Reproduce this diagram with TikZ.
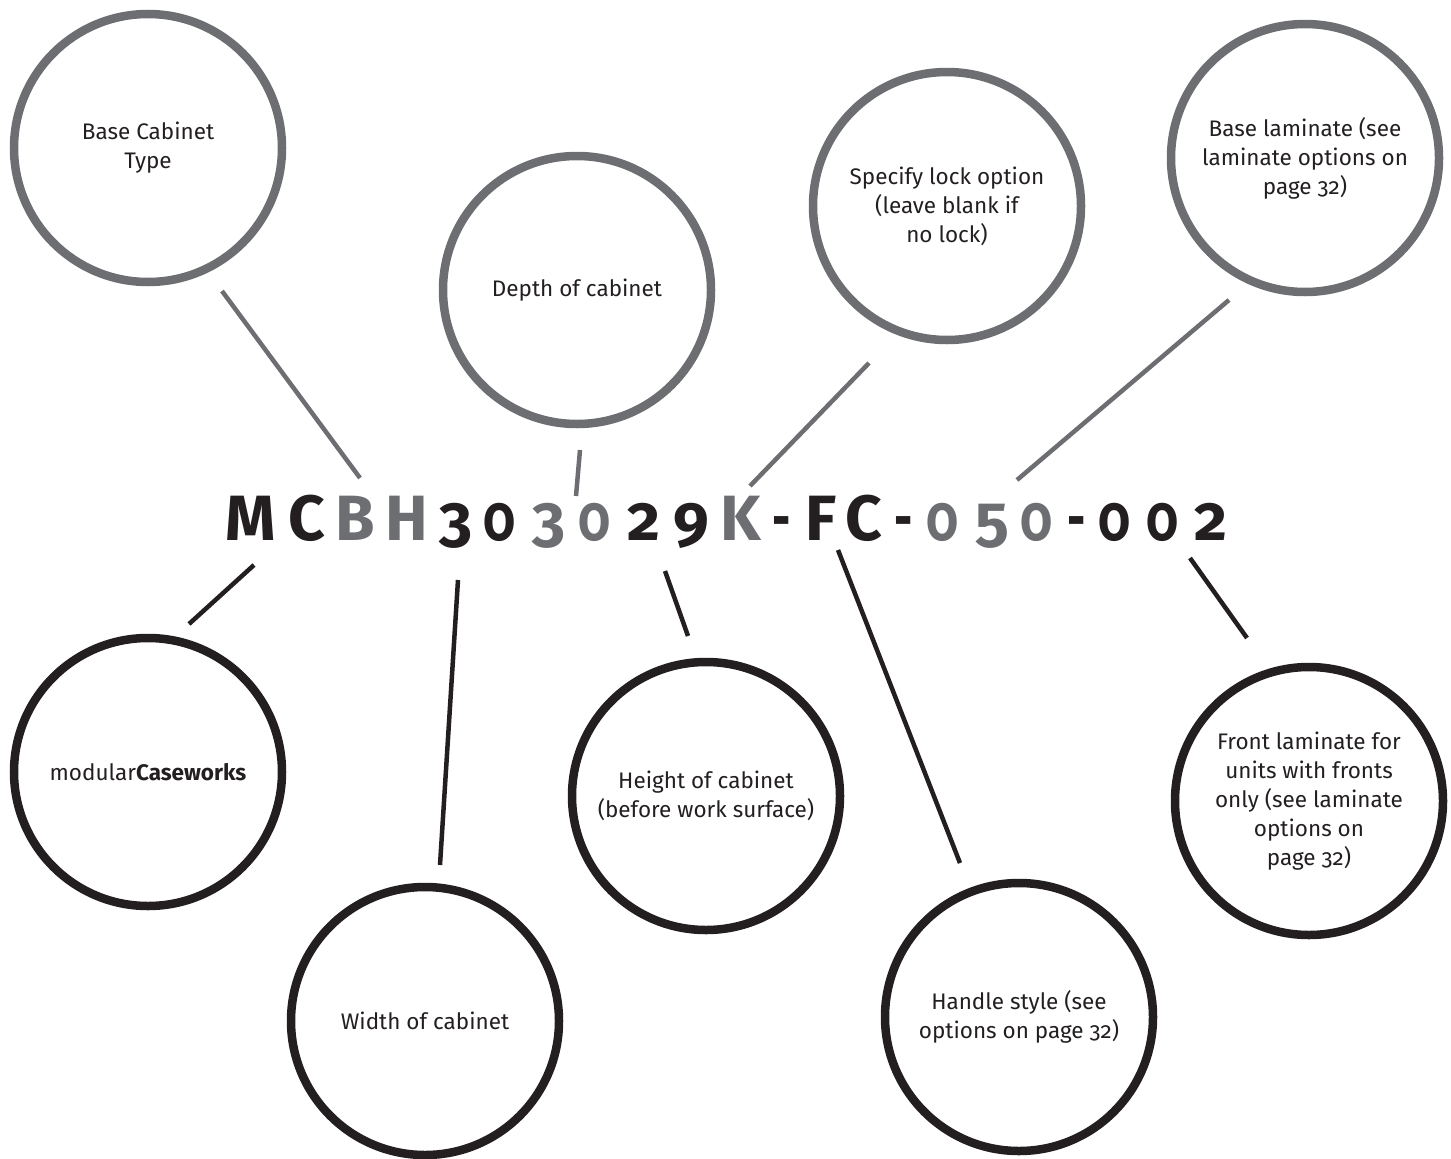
\documentclass[tikz,border=0pt]{standalone}
\usepackage{fontspec}
\setmainfont{Fira Sans}[Numbers=OldStyle]
\newfontfamily\codefont{Fira Sans}[Numbers=OldStyle]
\definecolor{ink}{HTML}{231F20}
\definecolor{mgray}{HTML}{6D6E71}
\newcommand\narrowzero{\scalebox{0.8}[1]{0}}
\newcommand\narrowdash{\scalebox{0.7}[1]{-}}
\tikzset{
  circg/.style={circle,draw=mgray,line width=8.5pt,minimum size=268pt,inner sep=0pt},
  circb/.style={circle,draw=ink,line width=8.5pt,minimum size=268pt,inner sep=0pt},
  lbl/.style={align=center,text=ink,font=\fontsize{22.5}{29}\selectfont,inner sep=0pt},
  lineg/.style={draw=mgray,line width=4.5pt},
  lineb/.style={draw=ink,line width=4.5pt},
  chb/.style={anchor=base,inner sep=0pt,text=ink,font=\codefont\bfseries\fontsize{64}{64}\selectfont},
  chg/.style={chb,text=mgray}
}
\begin{document}
\begin{tikzpicture}[x=1pt,y=-1pt]
\useasboundingbox (0,0) rectangle (1451,1159);
% top circles (gray)
\node[circg] (c1) at (148,148) {};
\node[lbl] (t1) at (c1) {Base Cabinet\\Type};
\node[circg] (c2) at (577,290) {};
\node[lbl] (t2) at (c2) {Depth of cabinet};
\node[circg] (c3) at (947,206) {};
\node[lbl] (t3) at (c3) {Specify lock option\\(leave blank if\\no lock)};
\node[circg] (c4) at (1305,158) {};
\node[lbl] (t4) at (c4) {Base laminate (see\\laminate options on\\page 32)};
% bottom circles (black)
\node[circb] (c5) at (148,772) {};
\node[lbl] (t5) at (c5) {modular\textbf{Caseworks}};
\node[circb] (c6) at (425,1021) {};
\node[lbl] (t6) at (c6) {Width of cabinet};
\node[circb] (c7) at (706,796) {};
\node[lbl] (t7) at (c7) {Height of cabinet\\(before work surface)};
\node[circb] (c8) at (1019,1017) {};
\node[lbl] (t8) at (c8) {Handle style (see\\options on page 32)};
\node[circb] (c9) at (1309,801) {};
\node[lbl] (t9) at (c9) {Front laminate for\\units with fronts\\only (see laminate\\options on\\page 32)};
% code characters
\node[chb] (k1) at (251,540) {M};
\node[chb] (k2) at (307,540) {C};
\node[chg] (k3) at (355,540) {B};
\node[chg] (k4) at (407,540) {H};
\node[chb] (k5) at (456,540) {3};
\node[chb] (k6) at (500,540) {\narrowzero};
\node[chg] (k7) at (549,540) {3};
\node[chg] (k8) at (595,540) {\narrowzero};
\node[chb] (k9) at (644,540) {2};
\node[chb] (k10) at (691,540) {9};
\node[chg] (k11) at (741,540) {K};
\node[chb] (k12) at (782,540) {\narrowdash};
\node[chb] (k13) at (821,540) {F};
\node[chb] (k14) at (864,540) {C};
\node[chb] (k15) at (904,540) {\narrowdash};
\node[chg] (k16) at (943,540) {\narrowzero};
\node[chg] (k17) at (992,540) {5};
\node[chg] (k18) at (1037,540) {\narrowzero};
\node[chb] (k19) at (1077,540) {\narrowdash};
\node[chb] (k20) at (1115,540) {\narrowzero};
\node[chb] (k21) at (1163,540) {\narrowzero};
\node[chb] (k22) at (1211,540) {2};
% connector end points
\coordinate (a1) at (222,291);  \coordinate (b1) at (360,478);
\coordinate (a2) at (580,450);  \coordinate (b2) at (576,496);
\coordinate (a3) at (869,363);  \coordinate (b3) at (750,486);
\coordinate (a4) at (1229,300); \coordinate (b4) at (1017,480);
\coordinate (a5) at (189,624);  \coordinate (b5) at (254,565);
\coordinate (a6) at (440,865);  \coordinate (b6) at (458,580);
\coordinate (a7) at (688,636);  \coordinate (b7) at (665,571);
\coordinate (a8) at (960,863);  \coordinate (b8) at (838,550);
\coordinate (a9) at (1247,638); \coordinate (b9) at (1190,558);
\draw[lineg] (a1) -- (b1);
\draw[lineg] (a2) -- (b2);
\draw[lineg] (a3) -- (b3);
\draw[lineg] (a4) -- (b4);
\draw[lineb] (a5) -- (b5);
\draw[lineb] (a6) -- (b6);
\draw[lineb] (a7) -- (b7);
\draw[lineb] (a8) -- (b8);
\draw[lineb] (a9) -- (b9);
\end{tikzpicture}
\end{document}
